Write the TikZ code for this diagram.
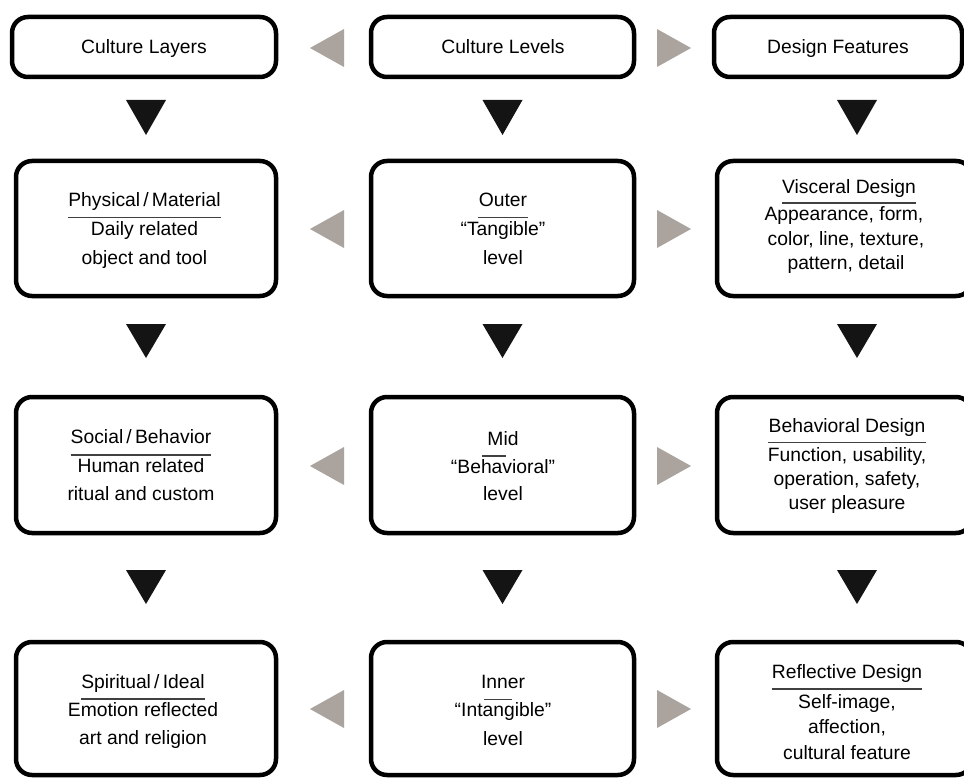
\documentclass[tikz,border=0pt]{standalone}
\usepackage{fontspec}
\setmainfont{Liberation Sans}
\definecolor{tri}{RGB}{170,163,158}
\begin{document}
\begin{tikzpicture}[x=1pt,y=-1pt,
  box/.style={draw=black, line width=4.5pt, rounded corners=16pt, fill=white, inner sep=0pt, outer sep=0pt},
  txt/.style={inner sep=0pt, text height=13.5pt, text depth=0pt, font=\fontsize{19.3}{23}\selectfont},
  sepline/.style={draw=black!75, line width=1.3pt},
  gtri/.style={fill=tri},
  btri/.style={fill=black!92}]
\useasboundingbox (0,0) rectangle (964,778);

% ---------- boxes ----------
\node[box, minimum width=264, minimum height=60] (L1) at (144,47) {};
\node[box, minimum width=263, minimum height=60] (M1) at (502.5,47) {};
\node[box, minimum width=248, minimum height=60] (R1) at (838,47) {};

\node[box, minimum width=260, minimum height=135] (L2) at (146,228.5) {};
\node[box, minimum width=263, minimum height=135] (M2) at (502.5,228.5) {};
\node[box, minimum width=255, minimum height=135] (R2) at (844.5,228.5) {};

\node[box, minimum width=260, minimum height=136] (L3) at (146,465) {};
\node[box, minimum width=263, minimum height=136] (M3) at (502.5,465) {};
\node[box, minimum width=255, minimum height=136] (R3) at (844.5,465) {};

\node[box, minimum width=260, minimum height=133] (L4) at (146,708.5) {};
\node[box, minimum width=263, minimum height=133] (M4) at (502.5,708.5) {};
\node[box, minimum width=255, minimum height=133] (R4) at (844.5,708.5) {};

% ---------- row 1 texts ----------
\node[txt] (tL1) at (144,47) {Culture Layers};
\node[txt] (tM1) at (503,47) {Culture Levels};
\node[txt] (tR1) at (838,47) {Design Features};

% ---------- row 2 texts ----------
\node[txt] (tL2a) at (144.5,200) {Physical\,/\,Material};
\node[txt] (tL2b) at (144.5,229) {Daily related};
\node[txt] (tL2c) at (144.5,258) {object and tool};
\draw[sepline] (tL2a.west |- 0,217.5) -- (tL2a.east |- 0,217.5);

\node[txt] (tM2a) at (503,200) {Outer};
\node[txt] (tM2b) at (503,229) {“Tangible”};
\node[txt] (tM2c) at (503,258) {level};
\draw[sepline] (478,217.5) -- (528,217.5);

\node[txt] (tR2a) at (849,187) {Visceral Design};
\node[txt] (tR2b) at (844,214) {Appearance, form,};
\node[txt] (tR2c) at (846,238.5) {color, line, texture,};
\node[txt] (tR2d) at (846,263) {pattern, detail};
\draw[sepline] (tR2a.west |- 0,203) -- (tR2a.east |- 0,203);

% ---------- row 3 texts ----------
\node[txt] (tL3a) at (141,437) {Social\,/\,Behavior};
\node[txt] (tL3b) at (141,466) {Human related};
\node[txt] (tL3c) at (141,494) {ritual and custom};
\draw[sepline] (tL3a.west |- 0,455) -- (tL3a.east |- 0,455);

\node[txt] (tM3a) at (503,439) {Mid};
\node[txt] (tM3b) at (503,467) {“Behavioral”};
\node[txt] (tM3c) at (503,494) {level};
\draw[sepline] (482,456) -- (506,456);

\node[txt] (tR3a) at (847,426) {Behavioral Design};
\node[txt] (tR3b) at (847,455) {Function, usability,};
\node[txt] (tR3c) at (847,479) {operation, safety,};
\node[txt] (tR3d) at (847,503) {user pleasure};
\draw[sepline] (tR3a.west |- 0,442.5) -- (tR3a.east |- 0,442.5);

% ---------- row 4 texts ----------
\node[txt] (tL4a) at (143,682) {Spiritual\,/\,Ideal};
\node[txt] (tL4b) at (143,710) {Emotion reflected};
\node[txt] (tL4c) at (143,738) {art and religion};
\draw[sepline] (tL4a.west |- 0,699) -- (tL4a.east |- 0,699);

\node[txt] (tM4a) at (503,682) {Inner};
\node[txt] (tM4b) at (503,710) {“Intangible”};
\node[txt] (tM4c) at (503,739) {level};
\draw[sepline] (484,699.5) -- (512,699.5);

\node[txt] (tR4a) at (847,672) {Reflective Design};
\node[txt] (tR4b) at (847,702) {Self-image,};
\node[txt] (tR4c) at (847,727) {affection,};
\node[txt] (tR4d) at (847,753) {cultural feature};
\draw[sepline] (tR4a.west |- 0,689) -- (tR4a.east |- 0,689);

% ---------- gray side triangles ----------
\foreach \cy in {48,229,466,709}{
  \fill[gtri] (310,\cy) -- (344,\cy-19) -- (344,\cy+19) -- cycle;
  \fill[gtri] (691,\cy) -- (657,\cy-19) -- (657,\cy+19) -- cycle;
}

% ---------- black down triangles ----------
\foreach \cx in {146,502.5,857}{
  \foreach \ty/\by in {100/135,324/358,570/604}{
    \fill[btri] (\cx-20,\ty) -- (\cx+20,\ty) -- (\cx,\by) -- cycle;
  }
}
\end{tikzpicture}
\end{document}
